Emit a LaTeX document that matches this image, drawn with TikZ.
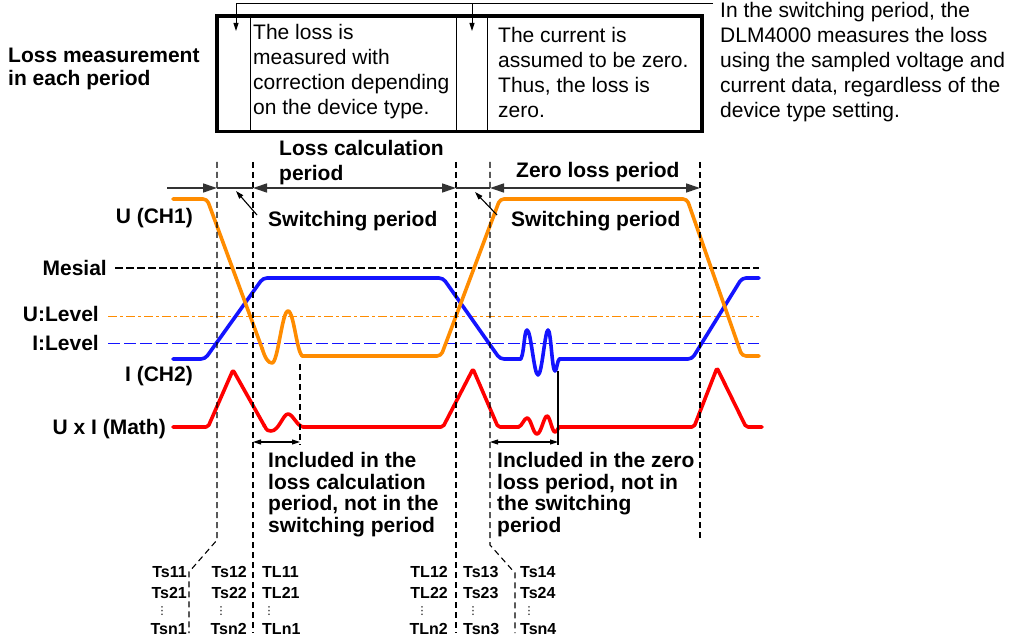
\documentclass[tikz,border=0pt]{standalone}
\usepackage{fontspec}
\setmainfont{Liberation Sans}
\newfontfamily\dejavu{DejaVu Sans}
\usetikzlibrary{arrows.meta}
\definecolor{uor}{RGB}{255,140,0}
\definecolor{iblue}{RGB}{20,20,255}
\definecolor{mred}{RGB}{255,0,0}
\begin{document}
\begin{tikzpicture}[x=1pt,y=-1pt,
  wave/.style={line width=3.6pt, line join=round, line cap=round},
  vdash/.style={black, line width=1.1pt, dash pattern=on 6pt off 4pt},
  perline/.style={draw=black!80, line width=1.3pt},
  bigtip/.style={-{Triangle[length=14pt,width=9pt]}},
  bigtips/.style={{Triangle[length=14pt,width=9pt]}-{Triangle[length=14pt,width=9pt]}},
  smalltip/.style={-{Triangle[length=8pt,width=5pt]}},
  smalltips/.style={{Triangle[length=8pt,width=5pt]}-{Triangle[length=8pt,width=5pt]}},
  bl/.style={font=\bfseries\fontsize{21}{21}\selectfont, inner sep=0},
  blm/.style={font=\bfseries\fontsize{21}{21.5}\selectfont, inner sep=0, align=left},
  rg/.style={font=\fontsize{21}{25}\selectfont, inner sep=0, align=left},
  tl/.style={font=\bfseries\fontsize{16}{16}\selectfont, inner sep=0},
  vd/.style={font=\dejavu\fontsize{11}{11}\selectfont, inner sep=0, anchor=base},
  mesial/.style={black, line width=1.1pt, dash pattern=on 8pt off 3pt},
  ulev/.style={uor, line width=1pt, dash pattern=on 9pt off 3pt on 3pt off 3pt},
  ilev/.style={iblue, line width=1pt, dash pattern=on 12pt off 4pt}
]
\useasboundingbox (0,0) rectangle (1012,639);
\fill[white] (0,0) rectangle (1012,639);

% ---------- top table ----------
\node[draw, line width=3.5pt, minimum width=485pt, minimum height=115.5pt,
      inner sep=0, anchor=north west] (box) at (215,14.5) {};
\draw[line width=1pt] (250,14.5) -- (250,130);
\draw[line width=1pt] (456,14.5) -- (456,130);
\draw[line width=1pt] (487,14.5) -- (487,130);
\node[rg, anchor=north west] (cellA) at (253,24.5)
  {The loss is\\measured with\\correction depending\\on the device type.};
\node[rg, anchor=north west] (cellB) at (498,27.5)
  {The current is\\assumed to be zero.\\Thus, the loss is\\zero.};
\node[rg, anchor=north west] (note) at (720,2.5)
  {In the switching period, the\\DLM4000 measures the loss\\using the sampled voltage and\\current data, regardless of the\\device type setting.};
\node[blm, font=\bfseries\fontsize{21}{23}\selectfont, anchor=north west] (lm) at (8,47.5)
  {Loss measurement\\in each period};

\coordinate (nt) at (713,4);
\coordinate (a1) at (236,4);
\coordinate (a2) at (472,4);
\coordinate (t1) at (236,31);
\coordinate (t2) at (472,31);
\draw[line width=1pt] (nt) -- (a1);
\draw[line width=1pt, smalltip] (a1) -- (t1);
\draw[line width=1pt, smalltip] (a2) -- (t2);

% ---------- level lines ----------
\node[bl, anchor=base east] (lblU) at (193,224) {U (CH1)};
\node[bl, anchor=base east] (lblM) at (107,275) {Mesial};
\node[bl, anchor=base east] (lblUL) at (99,321) {U:Level};
\node[bl, anchor=base east] (lblIL) at (99,350) {I:Level};
\node[bl, anchor=base east] (lblI) at (193,381) {I (CH2)};
\node[bl, anchor=base east] (lblX) at (166,434) {U x I (Math)};

\coordinate (m0) at (115,268); \coordinate (m1) at (759,268);
\coordinate (u0) at (108,316); \coordinate (u1) at (759,316);
\coordinate (i0) at (108,343); \coordinate (i1) at (759,343);
\draw[mesial] (m0) -- (m1);
\draw[ulev] (u0) -- (u1);
\draw[ilev] (i0) -- (i1);

% ---------- waveforms ----------
% I (CH2)
\draw[wave, iblue, rounded corners=4pt] (173,359) -- (205,359) -- (263,278) -- (443,278) -- (500,359) -- (521,359);
\draw[wave, iblue] (520,359)
  .. controls (524,359) and (524,330) .. (527,330)
  .. controls (531,330) and (534,375) .. (538,375)
  .. controls (542,375) and (545,330) .. (548,330)
  .. controls (551,330) and (552,371) .. (555,371)
  .. controls (557,371) and (557,359) .. (560,359);
\draw[wave, iblue, rounded corners=4pt] (559,359) -- (692,359) -- (742,278) -- (759,278);
% U (CH1)
\draw[wave, uor, rounded corners=4pt] (173,199) -- (207,199) -- (262.5,349.5);
\draw[wave, uor] (262,348)
  .. controls (265,358) and (268,363) .. (272,363)
  .. controls (278,363) and (282,311) .. (288,311)
  .. controls (294,311) and (297,356) .. (303,356);
\draw[wave, uor, rounded corners=4pt] (302,356) -- (441,356) -- (500,199) -- (687,199) -- (742,356) -- (759,356);
% U x I (Math)
\draw[wave, mred, rounded corners=2pt] (173,427) -- (208,427) -- (233,370) -- (264.5,426);
\draw[wave, mred] (264,425)
  .. controls (267,431) and (268,431) .. (271,431)
  .. controls (279,431) and (283,414) .. (288,414)
  .. controls (293,414) and (297,427) .. (304,427);
\draw[wave, mred, rounded corners=2pt] (303,427) -- (443,427) -- (473,369) -- (498,427) -- (519,427);
\draw[wave, mred] (518,427)
  .. controls (522,427) and (524,418) .. (527,418)
  .. controls (531,418) and (533,434) .. (537,434)
  .. controls (541,434) and (544,416) .. (547,416)
  .. controls (550,416) and (552,432) .. (555,432)
  .. controls (557,432) and (558,427) .. (560,427);
\draw[wave, mred, rounded corners=2pt] (559,427) -- (694,427) -- (717,368) -- (746,427) -- (762,427);

% ---------- vertical dashed lines ----------
\coordinate (d1t) at (217,162); \coordinate (d1a) at (217,540); \coordinate (d1b) at (189,572); \coordinate (d1c) at (189,633);
\coordinate (d2t) at (253,162); \coordinate (d2c) at (253,633);
\coordinate (d3t) at (456,162); \coordinate (d3c) at (456,633);
\coordinate (d4t) at (490,162); \coordinate (d4a) at (490,545); \coordinate (d4b) at (515,573); \coordinate (d4c) at (515,633);
\coordinate (d5t) at (700,162); \coordinate (d5c) at (700,538);
\draw[vdash] (d1t) -- (d1a) -- (d1b) -- (d1c);
\draw[vdash] (d2t) -- (d2c);
\draw[vdash] (d3t) -- (d3c);
\draw[vdash] (d4t) -- (d4a) -- (d4b) -- (d4c);
\draw[vdash] (d5t) -- (d5c);

% ---------- period arrows ----------
\coordinate (p0) at (167,188);
\coordinate (p1) at (217,188); \coordinate (p2) at (253,188);
\coordinate (p3) at (456,188); \coordinate (p4) at (490,188);
\coordinate (p5) at (700,188);
\draw[perline, bigtip] (p0) -- (p1);
\draw[perline] (p1) -- (p2);
\draw[perline, bigtips] (p2) -- (p3);
\draw[perline] (p3) -- (p4);
\draw[perline, bigtips] (p4) -- (p5);

\node[blm, font=\bfseries\fontsize{21}{25}\selectfont, anchor=north west] (lcp) at (279,140.5) {Loss calculation\\period};
\node[bl, anchor=base west] (zlp) at (516,178) {Zero loss period};
\node[bl, anchor=base west] (sw1) at (268,226.5) {Switching period};
\node[bl, anchor=base west] (sw2) at (511,226) {Switching period};
\coordinate (s1a) at (257,215); \coordinate (s1b) at (236,191);
\coordinate (s2a) at (497,215); \coordinate (s2b) at (475,192);
\draw[line width=1.1pt, smalltip] (s1a) -- (s1b);
\draw[line width=1.1pt, smalltip] (s2a) -- (s2b);

% ---------- included regions ----------
\coordinate (e1t) at (300,364); \coordinate (e1b) at (300,445);
\coordinate (e2t) at (558,371); \coordinate (e2b) at (558,445);
\draw[vdash] (e1t) -- (e1b);
\draw[line width=1.1pt] (e2t) -- (e2b);
\coordinate (g1a) at (253,442); \coordinate (g1b) at (300,442);
\coordinate (g2a) at (490,442); \coordinate (g2b) at (558,442);
\draw[line width=1.1pt, smalltips] (g1a) -- (g1b);
\draw[line width=1.1pt, smalltips] (g2a) -- (g2b);
\node[blm, anchor=north west] (inc1) at (268,452.5)
  {Included in the\\loss calculation\\period, not in the\\switching period};
\node[blm, anchor=north west] (inc2) at (497,452.5)
  {Included in the zero\\loss period, not in\\the switching\\period};

% ---------- time labels ----------
\node[tl, anchor=base east] (ts11) at (187,577) {Ts11};
\node[tl, anchor=base east] (ts21) at (187,598) {Ts21};
\node[vd] (v1) at (162,614) {⋮};
\node[tl, anchor=base east] (tsn1) at (187,634) {Tsn1};

\node[tl, anchor=base east] (ts12) at (247,577) {Ts12};
\node[tl, anchor=base east] (ts22) at (247,598) {Ts22};
\node[vd] (v2) at (221,614) {⋮};
\node[tl, anchor=base east] (tsn2) at (247,634) {Tsn2};

\node[tl, anchor=base west] (tl11) at (262,577) {TL11};
\node[tl, anchor=base west] (tl21) at (262,598) {TL21};
\node[vd] (v3) at (269,614) {⋮};
\node[tl, anchor=base west] (tln1) at (262,634) {TLn1};

\node[tl, anchor=base east] (tl12) at (448,577) {TL12};
\node[tl, anchor=base east] (tl22) at (448,598) {TL22};
\node[vd] (v4) at (422,614) {⋮};
\node[tl, anchor=base east] (tln2) at (448,634) {TLn2};

\node[tl, anchor=base west] (ts13) at (463,577) {Ts13};
\node[tl, anchor=base west] (ts23) at (463,598) {Ts23};
\node[vd] (v5) at (473,614) {⋮};
\node[tl, anchor=base west] (tsn3) at (463,634) {Tsn3};

\node[tl, anchor=base west] (ts14) at (520,577) {Ts14};
\node[tl, anchor=base west] (ts24) at (520,598) {Ts24};
\node[vd] (v6) at (529,614) {⋮};
\node[tl, anchor=base west] (tsn4) at (520,634) {Tsn4};
\end{tikzpicture}
\end{document}
